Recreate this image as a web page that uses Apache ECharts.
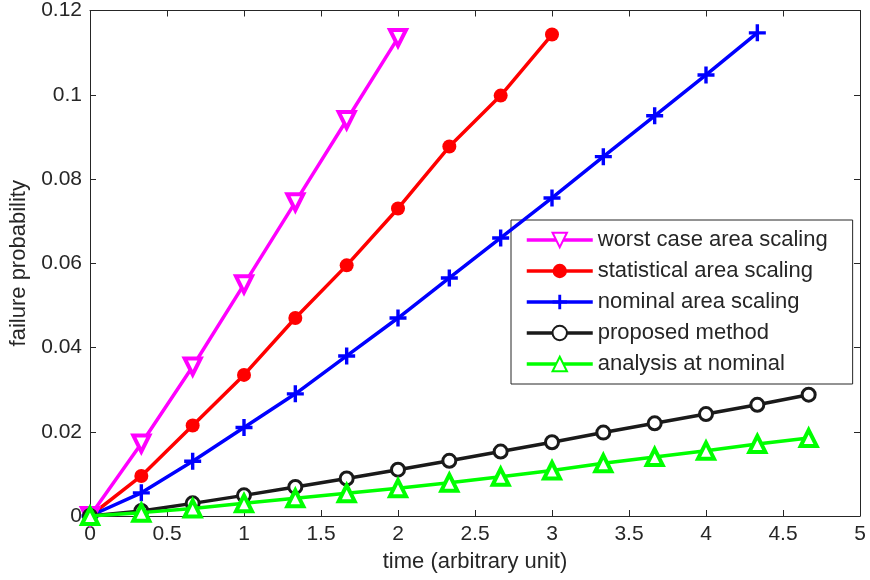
<!DOCTYPE html>
<html>
<head>
<meta charset="utf-8">
<script src="https://cdn.jsdelivr.net/npm/echarts@6/dist/echarts.min.js"></script>
<style>html,body{margin:0;padding:0;background:#fff;}#c{width:870px;height:580px;}</style>
</head>
<body>
<div id="c"></div>
<script>
var timeX = [0, 0.3333, 0.6667, 1, 1.3333, 1.6667, 2, 2.3333, 2.6667, 3, 3.3333, 3.6667, 4, 4.3333, 4.6667];
var worstCase = [0, 0.0172, 0.0355, 0.055, 0.0745, 0.094, 0.1135];
var statistical = [0, 0.0095, 0.0215, 0.0335, 0.047, 0.0595, 0.073, 0.0877, 0.0998, 0.1143];
var nominalScaling = [0, 0.0055, 0.013, 0.021, 0.029, 0.038, 0.047, 0.0565, 0.066, 0.0755, 0.0853, 0.095, 0.1047, 0.1147];
var proposed = [0, 0.0012, 0.003, 0.0049, 0.0069, 0.0089, 0.011, 0.0131, 0.0153, 0.0175, 0.0198, 0.022, 0.0242, 0.0264, 0.0288];
var analysisNominal = [0, 0.0008, 0.0018, 0.003, 0.0042, 0.0054, 0.0066, 0.0079, 0.0093, 0.0108, 0.0125, 0.014, 0.0155, 0.0171, 0.0185];
var names = ['worst case area scaling', 'statistical area scaling', 'nominal area scaling', 'proposed method', 'analysis at nominal'];

function pts(vals) { return vals.map(function (v, i) { return [timeX[i], v]; }); }

var font = 'Liberation Sans, Arial, Helvetica, sans-serif';
var txt = '#262626';
var plusPath = 'path://M4,0H6V4H10V6H6V10H4V6H0V4H4Z';

var chart = echarts.init(document.getElementById('c'), null, {renderer: 'canvas'});
function axLine() { return {show: true, onZero: false, lineStyle: {color: txt, width: 1}}; }
function axTick() { return {show: true, inside: true, length: 6, lineStyle: {color: txt, width: 1}}; }
chart.setOption({
  animation: false,
  backgroundColor: '#fff',
  textStyle: {fontFamily: font, color: txt},
  grid: {left: 90, right: 10, top: 9, bottom: 64, containLabel: false},
  legend: {
    orient: 'vertical', left: 511, top: 220,
    backgroundColor: '#fff', borderColor: txt, borderWidth: 1,
    padding: [9, 25, 9, 14], itemGap: 9, itemWidth: 66, itemHeight: 18,
    lineStyle: {width: 3.5},
    textStyle: {fontSize: 22, color: txt, fontFamily: font},
    data: names
  },
  xAxis: [{
    type: 'value', min: 0, max: 5, interval: 0.5,
    name: 'time (arbitrary unit)', nameLocation: 'middle', nameGap: 35,
    nameTextStyle: {fontSize: 22, color: txt},
    axisLine: axLine(), axisTick: axTick(),
    axisLabel: {fontSize: 21, color: txt, margin: 8},
    splitLine: {show: false}
  }, {
    type: 'value', min: 0, max: 5, interval: 0.5, position: 'top',
    axisLine: axLine(), axisTick: axTick(),
    axisLabel: {show: false}, splitLine: {show: false}
  }],
  yAxis: [{
    type: 'value', min: 0, max: 0.12, interval: 0.02,
    name: 'failure probability', nameLocation: 'middle', nameGap: 55,
    nameTextStyle: {fontSize: 22, color: txt},
    axisLine: axLine(), axisTick: axTick(),
    axisLabel: {fontSize: 21, color: txt, margin: 8},
    splitLine: {show: false}
  }, {
    type: 'value', min: 0, max: 0.12, interval: 0.02, position: 'right',
    axisLine: axLine(), axisTick: axTick(),
    axisLabel: {show: false}, splitLine: {show: false}
  }],
  series: [
    {name: names[0], type: 'line', data: pts(worstCase), symbol: 'triangle', symbolRotate: 180, symbolSize: 16,
     lineStyle: {color: '#ff00ff', width: 3.5}, itemStyle: {color: '#ffffff', borderColor: '#ff00ff', borderWidth: 4}, z: 5},
    {name: names[1], type: 'line', data: pts(statistical), symbol: 'circle', symbolSize: 14,
     lineStyle: {color: '#ff0000', width: 3.5}, itemStyle: {color: '#ff0000', borderColor: '#ff0000', borderWidth: 0}, z: 5},
    {name: names[2], type: 'line', data: pts(nominalScaling), symbol: plusPath, symbolSize: 17,
     lineStyle: {color: '#0000ff', width: 3.5}, itemStyle: {color: '#0000ff', borderWidth: 0}, z: 5},
    {name: names[3], type: 'line', data: pts(proposed), symbol: 'circle', symbolSize: 13,
     lineStyle: {color: '#1a1a1a', width: 3.5}, itemStyle: {color: '#ffffff', borderColor: '#1a1a1a', borderWidth: 3}, z: 5},
    {name: names[4], type: 'line', data: pts(analysisNominal), symbol: 'triangle', symbolSize: 16,
     lineStyle: {color: '#00ff00', width: 3.5}, itemStyle: {color: '#ffffff', borderColor: '#00ff00', borderWidth: 4}, z: 6}
  ]
});
</script>
</body>
</html>
